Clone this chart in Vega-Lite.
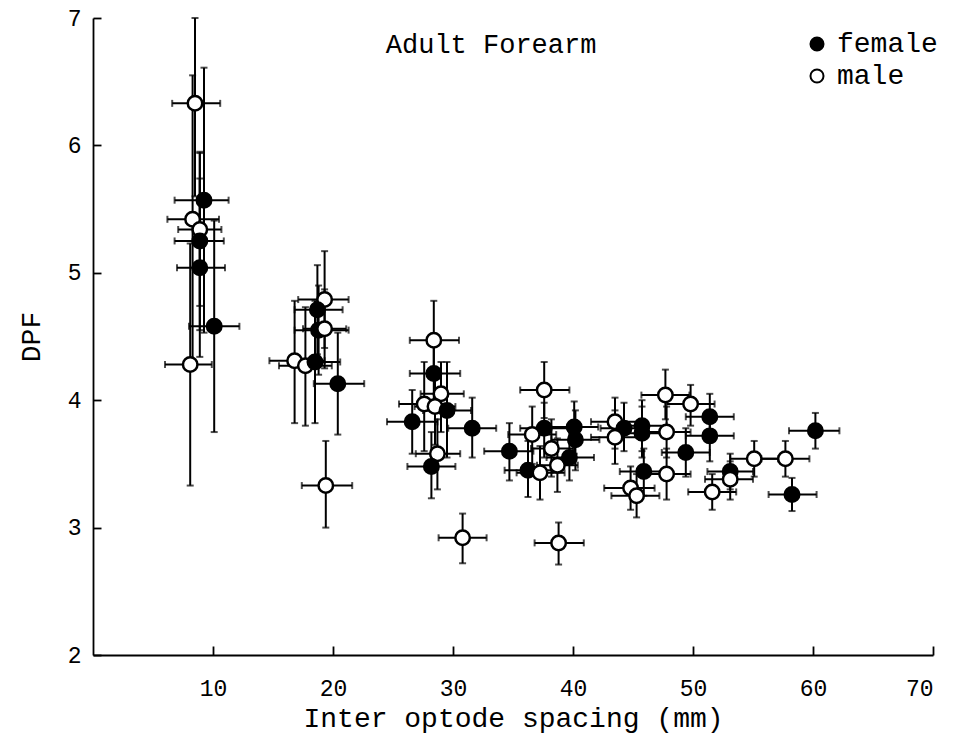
{
  "$schema": "https://vega.github.io/schema/vega-lite/v6.json",
  "autosize": "none",
  "width": 840,
  "height": 637,
  "padding": {"left": 93, "top": 18, "right": 44, "bottom": 80},
  "background": "white",
  "config": {
    "view": {"stroke": null},
    "font": "Liberation Mono",
    "axis": {
      "grid": false,
      "domainColor": "black",
      "domainWidth": 1.8,
      "tickColor": "black",
      "tickWidth": 1.8,
      "labelColor": "black",
      "titleColor": "black",
      "labelFont": "Liberation Mono",
      "titleFont": "Liberation Mono",
      "labelFontSize": 23,
      "titleFontSize": 28,
      "titleFontWeight": "normal"
    },
    "legend": {
      "orient": "none",
      "legendX": 710,
      "legendY": 12,
      "labelFont": "Liberation Mono",
      "labelFontSize": 28,
      "labelColor": "black",
      "symbolSize": 170,
      "symbolStrokeColor": "black",
      "symbolStrokeWidth": 2,
      "symbolType": "circle",
      "rowPadding": 4,
      "labelOffset": 6
    }
  },
  "data": {
    "values": [
      {"sex": "male", "x": 8.5, "y": 6.33, "xlo": 6.6, "xhi": 10.6, "ylo": 5.6, "yhi": 7.0},
      {"sex": "female", "x": 9.25, "y": 5.57, "xlo": 6.8, "xhi": 11.3, "ylo": 4.53, "yhi": 6.61},
      {"sex": "male", "x": 8.3, "y": 5.42, "xlo": 6.2, "xhi": 10.5, "ylo": 4.29, "yhi": 6.55},
      {"sex": "male", "x": 8.9, "y": 5.34, "xlo": 7.1, "xhi": 10.7, "ylo": 4.74, "yhi": 5.94},
      {"sex": "female", "x": 8.9, "y": 5.25, "xlo": 6.8, "xhi": 10.9, "ylo": 4.55, "yhi": 5.95},
      {"sex": "female", "x": 8.9, "y": 5.04, "xlo": 7.0, "xhi": 11.0, "ylo": 4.34, "yhi": 5.74},
      {"sex": "female", "x": 10.1, "y": 4.58, "xlo": 8.0, "xhi": 12.2, "ylo": 3.75, "yhi": 5.41},
      {"sex": "male", "x": 8.1, "y": 4.28, "xlo": 6.0, "xhi": 9.9, "ylo": 3.33, "yhi": 5.23},
      {"sex": "male", "x": 19.3, "y": 4.79, "xlo": 17.1, "xhi": 21.3, "ylo": 4.41, "yhi": 5.17},
      {"sex": "female", "x": 18.7, "y": 4.71, "xlo": 16.8, "xhi": 20.8, "ylo": 4.36, "yhi": 5.06},
      {"sex": "female", "x": 18.8, "y": 4.55, "xlo": 16.8, "xhi": 21.3, "ylo": 4.2, "yhi": 4.9},
      {"sex": "male", "x": 19.3, "y": 4.56, "xlo": 17.5, "xhi": 21.1, "ylo": 4.25, "yhi": 4.87},
      {"sex": "male", "x": 16.8, "y": 4.31, "xlo": 14.7, "xhi": 19.3, "ylo": 3.82, "yhi": 4.78},
      {"sex": "male", "x": 17.7, "y": 4.27, "xlo": 15.5, "xhi": 19.9, "ylo": 3.8, "yhi": 4.73},
      {"sex": "female", "x": 18.5, "y": 4.3, "xlo": 16.4, "xhi": 20.6, "ylo": 3.82, "yhi": 4.78},
      {"sex": "female", "x": 20.4, "y": 4.13, "xlo": 18.4, "xhi": 22.6, "ylo": 3.73, "yhi": 4.53},
      {"sex": "male", "x": 19.4, "y": 3.33, "xlo": 17.4, "xhi": 21.6, "ylo": 3.0, "yhi": 3.68},
      {"sex": "male", "x": 28.4, "y": 4.47, "xlo": 26.4, "xhi": 30.5, "ylo": 4.16, "yhi": 4.78},
      {"sex": "female", "x": 28.4, "y": 4.21, "xlo": 26.4, "xhi": 30.6, "ylo": 3.91, "yhi": 4.5},
      {"sex": "male", "x": 29.0, "y": 4.05, "xlo": 27.3, "xhi": 30.9, "ylo": 3.75, "yhi": 4.3},
      {"sex": "male", "x": 27.6, "y": 3.97, "xlo": 25.5, "xhi": 29.5, "ylo": 3.6, "yhi": 4.3},
      {"sex": "male", "x": 28.5, "y": 3.95, "xlo": 26.8, "xhi": 30.2, "ylo": 3.65, "yhi": 4.25},
      {"sex": "female", "x": 29.5, "y": 3.92, "xlo": 27.5, "xhi": 31.5, "ylo": 3.55, "yhi": 4.3},
      {"sex": "female", "x": 26.6, "y": 3.83, "xlo": 24.5, "xhi": 28.7, "ylo": 3.58, "yhi": 4.08},
      {"sex": "female", "x": 31.6, "y": 3.78, "xlo": 29.6, "xhi": 33.6, "ylo": 3.55, "yhi": 4.02},
      {"sex": "male", "x": 28.7, "y": 3.58, "xlo": 26.9, "xhi": 30.6, "ylo": 3.3, "yhi": 3.85},
      {"sex": "female", "x": 28.2, "y": 3.48, "xlo": 26.2, "xhi": 30.2, "ylo": 3.23, "yhi": 3.75},
      {"sex": "male", "x": 30.8, "y": 2.92, "xlo": 28.8, "xhi": 32.8, "ylo": 2.72, "yhi": 3.11},
      {"sex": "female", "x": 34.7, "y": 3.6, "xlo": 32.6, "xhi": 36.7, "ylo": 3.37, "yhi": 3.82},
      {"sex": "male", "x": 37.6, "y": 4.08, "xlo": 35.6, "xhi": 39.7, "ylo": 3.86, "yhi": 4.3},
      {"sex": "female", "x": 37.6, "y": 3.78, "xlo": 35.6, "xhi": 39.6, "ylo": 3.55, "yhi": 3.98},
      {"sex": "male", "x": 36.6, "y": 3.73, "xlo": 34.6, "xhi": 38.6, "ylo": 3.5, "yhi": 3.95},
      {"sex": "female", "x": 40.1, "y": 3.79, "xlo": 38.1, "xhi": 42.1, "ylo": 3.58, "yhi": 3.99},
      {"sex": "female", "x": 40.2, "y": 3.69, "xlo": 38.2, "xhi": 42.2, "ylo": 3.45, "yhi": 3.92},
      {"sex": "male", "x": 38.2, "y": 3.62, "xlo": 36.5, "xhi": 40.0, "ylo": 3.4, "yhi": 3.85},
      {"sex": "male", "x": 38.7, "y": 3.49, "xlo": 37.0, "xhi": 40.4, "ylo": 3.28, "yhi": 3.7},
      {"sex": "female", "x": 36.25, "y": 3.45, "xlo": 34.3, "xhi": 38.3, "ylo": 3.24, "yhi": 3.68},
      {"sex": "male", "x": 37.25, "y": 3.43, "xlo": 35.3, "xhi": 39.3, "ylo": 3.22, "yhi": 3.64},
      {"sex": "female", "x": 39.7, "y": 3.55, "xlo": 37.8, "xhi": 41.75, "ylo": 3.37, "yhi": 3.78},
      {"sex": "male", "x": 38.8, "y": 2.88, "xlo": 36.8, "xhi": 40.9, "ylo": 2.71, "yhi": 3.04},
      {"sex": "male", "x": 43.5, "y": 3.83, "xlo": 41.5, "xhi": 45.5, "ylo": 3.62, "yhi": 4.02},
      {"sex": "female", "x": 44.25, "y": 3.78, "xlo": 42.3, "xhi": 46.3, "ylo": 3.6, "yhi": 3.98},
      {"sex": "male", "x": 43.5, "y": 3.71, "xlo": 41.5, "xhi": 45.5, "ylo": 3.5, "yhi": 3.92},
      {"sex": "female", "x": 45.75, "y": 3.8, "xlo": 43.8, "xhi": 47.8, "ylo": 3.6, "yhi": 4.0},
      {"sex": "female", "x": 45.75, "y": 3.74, "xlo": 43.8, "xhi": 47.8, "ylo": 3.55, "yhi": 3.95},
      {"sex": "female", "x": 45.9, "y": 3.44, "xlo": 43.9, "xhi": 47.9, "ylo": 3.25, "yhi": 3.62},
      {"sex": "male", "x": 44.8, "y": 3.31, "xlo": 42.6, "xhi": 46.8, "ylo": 3.14, "yhi": 3.48},
      {"sex": "male", "x": 45.3, "y": 3.25, "xlo": 43.2, "xhi": 47.2, "ylo": 3.08, "yhi": 3.42},
      {"sex": "male", "x": 47.7, "y": 4.04, "xlo": 45.7, "xhi": 49.7, "ylo": 3.85, "yhi": 4.24},
      {"sex": "male", "x": 49.8, "y": 3.97, "xlo": 47.8, "xhi": 51.8, "ylo": 3.8, "yhi": 4.12},
      {"sex": "female", "x": 51.4, "y": 3.87, "xlo": 49.4, "xhi": 53.4, "ylo": 3.7, "yhi": 4.05},
      {"sex": "female", "x": 51.4, "y": 3.72, "xlo": 49.4, "xhi": 53.4, "ylo": 3.52, "yhi": 3.9},
      {"sex": "male", "x": 47.8, "y": 3.75, "xlo": 45.8, "xhi": 49.8, "ylo": 3.55, "yhi": 3.95},
      {"sex": "female", "x": 49.4, "y": 3.59, "xlo": 47.4, "xhi": 51.4, "ylo": 3.4, "yhi": 3.78},
      {"sex": "male", "x": 47.8, "y": 3.42, "xlo": 45.8, "xhi": 49.8, "ylo": 3.22, "yhi": 3.62},
      {"sex": "female", "x": 53.1, "y": 3.44, "xlo": 51.2, "xhi": 55.0, "ylo": 3.3, "yhi": 3.58},
      {"sex": "male", "x": 53.1, "y": 3.38, "xlo": 51.0, "xhi": 55.0, "ylo": 3.22, "yhi": 3.52},
      {"sex": "male", "x": 51.6, "y": 3.28, "xlo": 49.6, "xhi": 53.6, "ylo": 3.14, "yhi": 3.42},
      {"sex": "male", "x": 55.1, "y": 3.54, "xlo": 53.1, "xhi": 57.1, "ylo": 3.4, "yhi": 3.68},
      {"sex": "male", "x": 57.7, "y": 3.54, "xlo": 55.7, "xhi": 59.7, "ylo": 3.4, "yhi": 3.68},
      {"sex": "female", "x": 60.2, "y": 3.76, "xlo": 58.0, "xhi": 62.2, "ylo": 3.62, "yhi": 3.9},
      {"sex": "female", "x": 58.25, "y": 3.26, "xlo": 56.3, "xhi": 60.3, "ylo": 3.13, "yhi": 3.39}
    ]
  },
  "layer": [
    {
      "mark": {"type": "errorbar", "ticks": {"size": 7, "color": "black"}, "thickness": 2, "color": "black"},
      "encoding": {
        "x": {"field": "x", "type": "quantitative", "scale": {"domain": [0, 70], "nice": false}, "title": "Inter optode spacing (mm)",
          "axis": {"values": [10, 20, 30, 40, 50, 60, 70], "format": "d", "tickSize": -9, "labelPadding": 31, "titlePadding": 4}},
        "y": {"field": "ylo", "type": "quantitative", "scale": {"domain": [2, 7], "nice": false}, "title": "DPF",
          "axis": {"values": [2, 3, 4, 5, 6, 7], "format": "d", "tickSize": -8, "labelPadding": 20, "titlePadding": 22}},
        "y2": {"field": "yhi"}
      }
    },
    {
      "mark": {"type": "errorbar", "ticks": {"size": 7, "color": "black"}, "thickness": 2, "color": "black"},
      "encoding": {
        "y": {"field": "y", "type": "quantitative", "title": "DPF"},
        "x": {"field": "xlo", "type": "quantitative", "title": "Inter optode spacing (mm)"},
        "x2": {"field": "xhi"}
      }
    },
    {
      "mark": {"type": "point", "shape": "circle", "filled": false, "size": 210, "stroke": "black", "strokeWidth": 2.5, "opacity": 1, "fillOpacity": 1},
      "encoding": {
        "x": {"field": "x", "type": "quantitative", "title": "Inter optode spacing (mm)"},
        "y": {"field": "y", "type": "quantitative", "title": "DPF"},
        "fill": {"field": "sex", "type": "nominal", "scale": {"domain": ["female", "male"], "range": ["black", "white"]}, "legend": {"title": null}}
      }
    },
    {
      "data": {"values": [{"label": "Adult Forearm"}]},
      "mark": {"type": "text", "align": "left", "baseline": "middle", "font": "Liberation Mono", "fontSize": 27, "color": "black"},
      "encoding": {
        "text": {"field": "label"},
        "x": {"datum": 24.4, "type": "quantitative"},
        "y": {"datum": 6.79, "type": "quantitative"}
      }
    }
  ]
}
